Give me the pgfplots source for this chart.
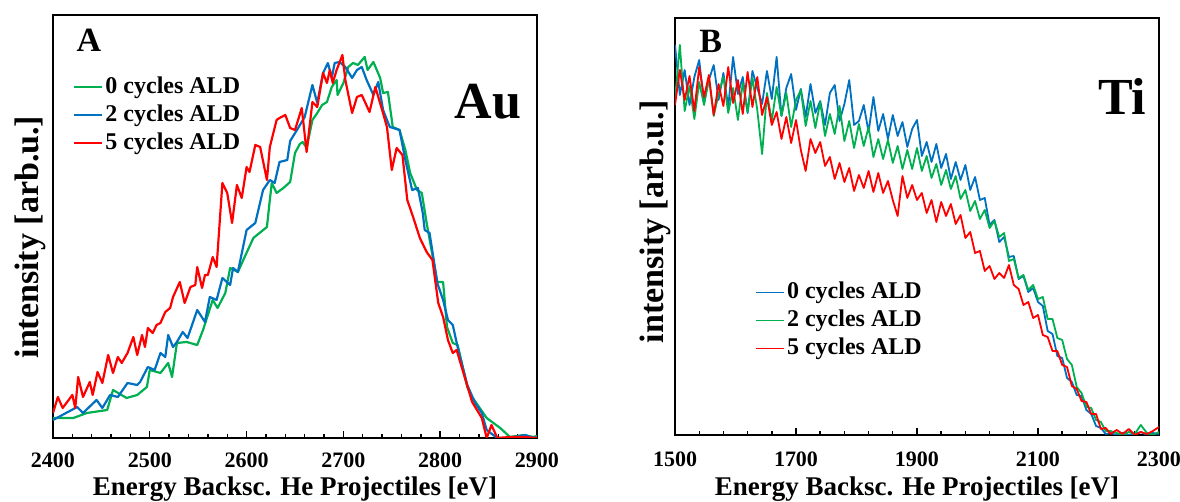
\documentclass[border=0pt]{standalone}
\usepackage{fontspec}
\setmainfont{Liberation Serif}
\usepackage{pgfplots}
\pgfplotsset{compat=1.18}

\definecolor{aldgreen}{RGB}{0,176,80}
\definecolor{aldblue}{RGB}{0,112,192}
\definecolor{aldred}{RGB}{255,0,0}

\pgfplotsset{
  ald/.style={
    scale only axis, width=242pt, anchor=south west,
    axis line style={line width=0.8pt},
    xtick pos=bottom, ytick=\empty,
    tick align=inside, major tick length=3.5pt, minor tick length=2pt,
    every tick/.style={black, line width=0.7pt},
    minor x tick num=4,
    /pgf/number format/assume math mode=true,
    /pgf/number format/1000 sep={},
    xticklabel style={font=\fontsize{11}{13}\selectfont\bfseries, inner sep=0.5pt},
    xlabel={Energy Backsc. He Projectiles [eV]},
    ylabel={intensity [arb.u.]},
    xlabel style={font=\fontsize{13.5}{16}\selectfont\bfseries, inner sep=0.5pt,
      at={(axis description cs:0.5,0)}, anchor=base},
    ylabel style={font=\fontsize{17}{19}\selectfont\bfseries, anchor=center},
    legend style={draw=none, fill=none, anchor=north west,
      font=\fontsize{12}{14}\selectfont\bfseries,
      inner sep=0pt, row sep=0pt,
      nodes={text height=9pt, text depth=3pt, inner ysep=1pt, inner xsep=1pt}},
    legend cell align=left,
    legend image code/.code={\draw[##1] (0pt,0pt) -- (14pt,0pt);},
    every axis plot/.append style={line join=round},
  }
}

\begin{document}
\begin{tikzpicture}
\useasboundingbox (0,0) rectangle (590pt,251pt);

% Panel A: Au signal
\begin{axis}[ald, at={(26.5pt,32pt)}, height=211.5pt,
  xmin=2400, xmax=2900, xtick={2400,2500,...,2900},
  ymin=0, ymax=423,
  xticklabel style={yshift=-6.5pt},
  xlabel style={yshift=-29pt},
  ylabel style={at={(axis description cs:-0.0475,0.475)}},
  legend style={at={(axis description cs:0.041,0.863)}},
]
\addplot[aldgreen, line width=1.1pt] coordinates {
(2400,20)(2421,20)(2435,25)(2456,28)(2462,48)(2476,40)(2487,43)(2497,51)(2500,68)(2511,65)
(2519,75)(2523,61)(2528,95)(2538,96)(2549,93)(2555,108)(2565,138)(2570,130)(2578,145)(2583,170)
(2591,166)(2598,181)(2607,200)(2621,211)(2624,238)(2626,255)(2631,245)(2638,250)(2645,256)(2650,285)
(2655,294)(2658,296)(2662,290)(2668,318)(2673,325)(2678,333)(2683,336)(2688,351)(2693,358)(2694,343)
(2700,355)(2705,371)(2710,375)(2715,373)(2722,381)(2725,368)(2731,376)(2738,360)(2741,345)(2746,346)
(2751,311)(2758,308)(2764,288)(2769,265)(2776,248)(2781,245)(2786,215)(2797,156)(2803,156)(2807,111)
(2813,95)(2818,93)(2828,51)(2833,41)(2848,20)(2862,10)(2872,1)(2886,3)(2896,1)(2900,2)};
\addlegendentry{0 cycles ALD}
\addplot[aldblue, line width=1.1pt] coordinates {
(2400,18)(2425,31)(2431,25)(2445,38)(2451,30)(2459,43)(2467,41)(2477,55)(2487,53)(2490,56)
(2498,71)(2505,68)(2511,85)(2516,81)(2519,103)(2524,91)(2528,96)(2534,106)(2539,100)(2549,128)
(2557,116)(2562,141)(2569,138)(2575,160)(2583,153)(2586,170)(2591,166)(2600,208)(2609,215)(2617,248)
(2624,258)(2629,255)(2634,276)(2642,278)(2645,297)(2652,308)(2660,321)(2668,353)(2673,335)(2679,365)
(2684,375)(2688,360)(2691,375)(2696,376)(2702,371)(2709,360)(2714,368)(2719,371)(2724,358)(2731,343)
(2736,356)(2741,328)(2745,318)(2748,311)(2758,308)(2764,278)(2771,248)(2777,250)(2782,225)(2784,208)
(2789,205)(2797,155)(2803,138)(2808,118)(2813,113)(2818,91)(2828,53)(2836,35)(2843,25)(2848,8)
(2859,0)(2872,0)(2888,3)(2896,0)(2900,1)};
\addlegendentry{2 cycles ALD}
\addplot[aldred, line width=1.1pt] coordinates {
(2400,25)(2405,41)(2410,30)(2420,43)(2423,30)(2426,61)(2431,41)(2438,56)(2441,43)(2446,66)
(2451,55)(2457,83)(2462,65)(2467,81)(2471,75)(2477,85)(2483,101)(2487,83)(2492,103)(2495,91)
(2498,110)(2503,105)(2507,113)(2511,115)(2516,126)(2521,130)(2524,141)(2531,156)(2536,135)(2542,151)
(2547,153)(2549,171)(2554,150)(2557,163)(2560,163)(2565,181)(2569,171)(2575,255)(2580,245)(2585,215)
(2590,253)(2595,240)(2600,271)(2603,266)(2609,293)(2614,291)(2621,258)(2624,291)(2631,318)(2634,320)
(2640,323)(2645,310)(2650,308)(2657,330)(2662,286)(2668,336)(2673,331)(2679,365)(2683,355)(2686,368)
(2689,355)(2693,368)(2699,383)(2702,358)(2709,325)(2714,341)(2719,343)(2727,326)(2733,351)(2740,328)
(2745,311)(2750,268)(2755,290)(2761,283)(2766,238)(2772,221)(2779,200)(2786,186)(2792,178)(2798,135)
(2803,121)(2808,98)(2813,85)(2817,88)(2824,65)(2833,36)(2843,20)(2848,0)(2853,13)(2859,0)
(2872,1)(2886,1)(2900,0)};
\addlegendentry{5 cycles ALD}
\node[font=\fontsize{17}{19}\selectfont\bfseries] at (axis description cs:0.074,0.941) {A};
\node[font=\fontsize{26}{30}\selectfont\bfseries] at (axis description cs:0.899,0.794) {Au};
\end{axis}

% Panel B: Ti signal
\begin{axis}[ald, at={(337.5pt,33.5pt)}, height=208.5pt,
  xmin=1500, xmax=2300, xtick={1500,1700,...,2300},
  ymin=0, ymax=417,
  xticklabel style={yshift=-7.5pt},
  xlabel style={yshift=-30.5pt},
  ylabel style={at={(axis description cs:-0.041,0.511)}},
  legend style={at={(axis description cs:0.165,0.376)}},
]
\addplot[aldblue, line width=0.9pt] coordinates {
(1500,390)(1508,340)(1516,365)(1524,330)(1532,358)(1540,375)(1548,332)(1556,355)(1564,370)(1572,335)
(1580,362)(1588,328)(1596,378)(1604,341)(1612,358)(1620,322)(1628,364)(1636,347)(1644,331)(1652,364)
(1660,336)(1668,378)(1676,319)(1684,347)(1692,361)(1700,325)(1708,346)(1716,318)(1724,351)(1732,322)
(1740,334)(1748,310)(1756,342)(1764,350)(1772,314)(1780,331)(1788,355)(1796,310)(1804,314)(1812,330)
(1820,303)(1828,338)(1836,304)(1844,321)(1852,296)(1860,320)(1868,299)(1876,313)(1884,288)(1892,306)
(1900,315)(1908,279)(1916,293)(1924,273)(1932,291)(1940,267)(1948,281)(1956,256)(1964,273)(1972,255)
(1980,270)(1988,245)(1996,258)(2004,235)(2012,237)(2020,210)(2028,215)(2036,193)(2044,198)(2052,178)
(2060,179)(2068,156)(2076,159)(2084,143)(2092,147)(2100,133)(2108,129)(2116,104)(2124,101)(2132,79)
(2140,77)(2148,57)(2156,53)(2164,40)(2172,39)(2180,25)(2188,21)(2196,9)(2204,7)(2212,1)
(2220,2)(2230,0)(2240,2)(2250,0)(2260,1)(2270,3)(2280,0)(2290,2)(2300,1)};
\addlegendentry{0 cycles ALD}
\addplot[aldgreen, line width=0.9pt] coordinates {
(1500,335)(1508,390)(1516,324)(1524,349)(1532,316)(1540,353)(1548,330)(1556,357)(1564,319)(1572,341)
(1580,358)(1588,322)(1596,347)(1604,315)(1612,352)(1620,323)(1628,357)(1636,325)(1644,281)(1652,342)
(1660,314)(1668,348)(1676,319)(1684,342)(1692,308)(1700,335)(1708,345)(1716,309)(1724,334)(1732,307)
(1740,333)(1748,299)(1756,321)(1764,301)(1772,329)(1780,294)(1788,314)(1796,287)(1804,311)(1812,289)
(1820,308)(1828,278)(1836,296)(1844,276)(1852,295)(1860,272)(1868,289)(1876,266)(1884,285)(1892,266)
(1900,287)(1908,264)(1916,279)(1924,257)(1932,271)(1940,250)(1948,265)(1956,246)(1964,259)(1972,236)
(1980,245)(1988,224)(1996,234)(2004,216)(2012,225)(2020,207)(2028,214)(2036,198)(2044,202)(2052,174)
(2060,176)(2068,157)(2076,160)(2084,145)(2092,150)(2100,136)(2108,138)(2116,116)(2124,116)(2132,97)
(2140,95)(2148,76)(2156,70)(2164,48)(2172,42)(2180,28)(2188,27)(2196,15)(2204,13)(2212,4)
(2220,4)(2230,2)(2240,0)(2250,3)(2260,1)(2270,10)(2280,2)(2290,0)(2300,3)};
\addlegendentry{2 cycles ALD}
\addplot[aldred, line width=0.9pt] coordinates {
(1500,330)(1508,365)(1516,335)(1524,359)(1532,324)(1540,368)(1548,338)(1556,360)(1564,320)(1572,351)
(1580,329)(1588,368)(1596,332)(1604,355)(1612,321)(1620,363)(1628,328)(1636,358)(1644,320)(1652,338)
(1660,310)(1668,323)(1676,296)(1684,318)(1692,292)(1700,315)(1708,285)(1716,264)(1724,296)(1732,282)
(1740,293)(1748,269)(1756,278)(1764,256)(1772,272)(1780,253)(1788,267)(1796,244)(1804,260)(1812,247)
(1820,264)(1828,243)(1836,262)(1844,242)(1852,254)(1860,235)(1868,219)(1876,259)(1884,237)(1892,250)
(1900,235)(1908,242)(1916,222)(1924,235)(1932,213)(1940,233)(1948,219)(1956,231)(1964,211)(1972,220)
(1980,197)(1988,203)(1996,182)(2004,184)(2012,164)(2020,169)(2028,156)(2036,162)(2044,157)(2052,170)
(2060,150)(2068,146)(2076,130)(2084,133)(2092,117)(2100,120)(2108,100)(2116,98)(2124,84)(2132,84)
(2140,70)(2148,68)(2156,49)(2164,46)(2172,34)(2180,33)(2188,21)(2196,21)(2204,6)(2212,7)
(2220,1)(2230,5)(2240,1)(2250,6)(2260,0)(2270,3)(2280,1)(2290,4)(2300,8)};
\addlegendentry{5 cycles ALD}
\node[font=\fontsize{17}{19}\selectfont\bfseries] at (axis description cs:0.074,0.945) {B};
\node[font=\fontsize{26}{30}\selectfont\bfseries] at (axis description cs:0.924,0.813) {Ti};
\end{axis}
\end{tikzpicture}
\end{document}
